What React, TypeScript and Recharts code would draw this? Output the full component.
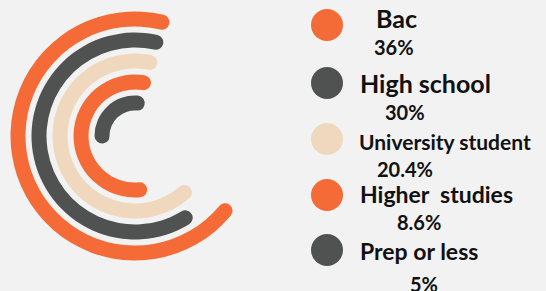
import { RadialBarChart, RadialBar, PolarAngleAxis, Cell } from 'recharts';

// legend order, top to bottom (outer ring to inner ring)
const categories = ['Bac', 'High school', 'University student', 'Higher  studies', 'Prep or less'];
const shares = ['36%', '30%', '20.4%', '8.6%', '5%'];
// sweep of each ring in degrees (not proportional to the shares)
const arcDegrees = [251, 233, 244, 210, 120];
const colors = ['#F46B37', '#505251', '#F0D8BE', '#F46B37', '#505251'];

// where each legend text sits (px), per row
const rowLayout = [
  { cy: 25, labelLeft: 376, labelTop: 5.8, labelSize: 25, pctLeft: 374, pctTop: 37.3 },
  { cy: 83, labelLeft: 360, labelTop: 70.8, labelSize: 25, pctLeft: 385, pctTop: 102.3 },
  { cy: 139, labelLeft: 359, labelTop: 131.4, labelSize: 21, pctLeft: 377, pctTop: 159.3 },
  { cy: 195, labelLeft: 360, labelTop: 182.6, labelSize: 23, pctLeft: 397, pctTop: 212.3 },
  { cy: 250, labelLeft: 360, labelTop: 239.6, labelSize: 23, pctLeft: 410, pctTop: 273.6 },
];

// Recharts puts the first row on the inside, so flip it
const chartData = categories
  .map((name, i) => ({ name, value: arcDegrees[i], fill: colors[i] }))
  .reverse();

const font = 'Lato, "Open Sans", sans-serif';

export default function App() {
  return (
    <div style={{ position: 'absolute', left: 0, top: 0, width: 546, height: 291, background: '#F2F2F2', overflow: 'hidden', fontFamily: font }}>
      <RadialBarChart
        width={546}
        height={291}
        cx={135}
        cy={136}
        innerRadius={22.5}
        outerRadius={127.5}
        startAngle={73}
        endAngle={433}
        barSize={15}
        data={chartData}
        margin={{ top: 0, right: 0, bottom: 0, left: 0 }}
      >
        <PolarAngleAxis type="number" domain={[0, 360]} tick={false} axisLine={false} />
        <RadialBar dataKey="value" cornerRadius={7.5} isAnimationActive={false}>
          {chartData.map((d) => (
            <Cell key={d.name} fill={d.fill} />
          ))}
        </RadialBar>
      </RadialBarChart>

      {categories.map((name, i) => {
        const row = rowLayout[i];
        return (
          <div key={name}>
            <div style={{ position: 'absolute', left: 311, top: row.cy - 16, width: 32, height: 32, borderRadius: '50%', background: colors[i] }} />
            <div style={{ position: 'absolute', left: row.labelLeft, top: row.labelTop, fontSize: row.labelSize, lineHeight: 1, fontWeight: 700, color: '#111', whiteSpace: 'pre' }}>
              {name}
            </div>
            <div style={{ position: 'absolute', left: row.pctLeft, top: row.pctTop, fontSize: 20, lineHeight: 1, fontWeight: 700, color: '#111', whiteSpace: 'pre' }}>
              {shares[i]}
            </div>
          </div>
        );
      })}
    </div>
  );
}
